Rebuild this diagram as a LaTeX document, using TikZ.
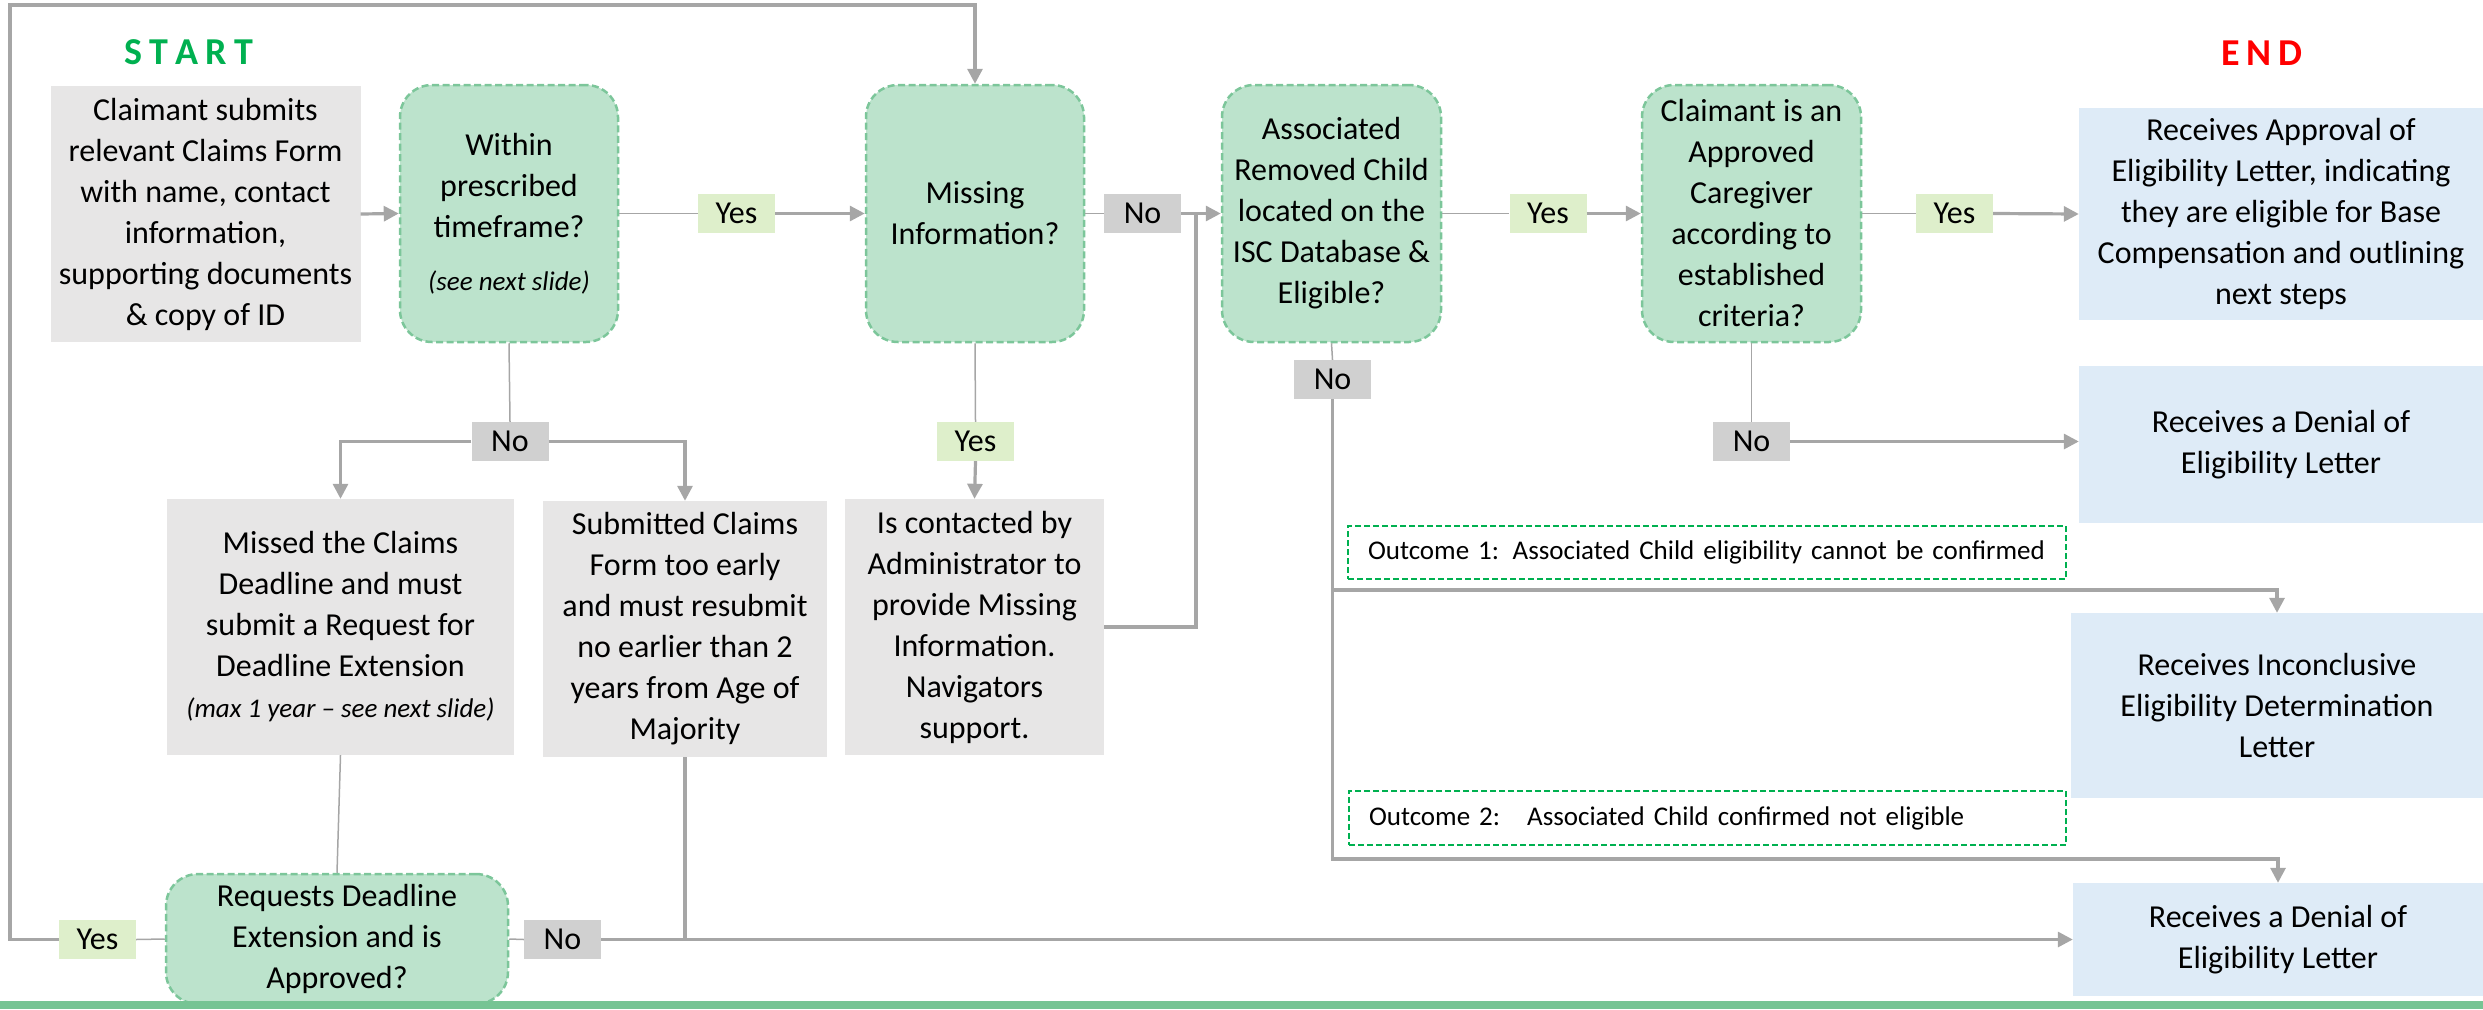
\documentclass[tikz,border=0pt]{standalone}
\usepackage{fontspec}
\setmainfont{Carlito}
\usetikzlibrary{arrows.meta}
\definecolor{boxgray}{RGB}{231,230,230}
\definecolor{decfill}{RGB}{188,227,204}
\definecolor{decline}{RGB}{124,198,154}
\definecolor{yesfill}{RGB}{222,239,203}
\definecolor{nofill}{RGB}{208,208,208}
\definecolor{endfill}{RGB}{222,235,247}
\definecolor{conn}{RGB}{166,166,166}
\definecolor{startgreen}{RGB}{0,176,80}
\definecolor{endred}{RGB}{255,0,0}
\definecolor{barg}{RGB}{118,196,148}
\begin{document}
\begin{tikzpicture}[x=1pt,y=-1pt,
  every node/.style={font=\fontsize{32}{41}\selectfont, align=center, inner sep=0pt},
  sz/.style 2 args={minimum width=#1pt, minimum height=#2pt},
  procbox/.style={fill=boxgray},
  decbox/.style={fill=decfill, draw=decline, line width=2.5pt, dash pattern=on 7pt off 3.5pt, rounded corners=32pt},
  endbox/.style={fill=endfill},
  yeslab/.style={fill=yesfill, sz={77}{39}},
  nolab/.style={fill=nofill, sz={77}{39}},
  outbox/.style={draw=startgreen, line width=2pt, dash pattern=on 6pt off 3pt, fill=white, font=\fontsize{27}{32}\selectfont, align=left, inner xsep=20pt},
  cthin/.style={draw=conn, line width=1.5pt},
  cthick/.style={draw=conn, line width=3.2pt},
  arr/.style={-{Triangle[length=15pt,width=15pt]}}
]
\useasboundingbox (0,0) rectangle (2483,1009);

% titles
\node[font=\fontsize{38}{44}\selectfont\bfseries, text=startgreen] (start) at (189,52) {S\kern7pt T\kern7pt A\kern7pt R\kern7pt T};
\node[font=\fontsize{38}{44}\selectfont\bfseries, text=endred] (endt) at (2262,53) {E\kern7pt N\kern7pt D};

% main row
\node[procbox, sz={310}{256}] (claim) at (205.5,214) {Claimant submits\\relevant Claims Form\\with name, contact\\information,\\supporting documents\\\& copy of ID};
\node[decbox, sz={218}{257}] (within) at (509,213.5) {Within\\prescribed\\timeframe?\\[12pt]{\fontsize{27}{32}\selectfont\itshape (see next slide)}};
\node[decbox, sz={218}{257}] (missing) at (975,213.5) {Missing\\Information?};
\node[decbox, sz={219}{257}] (assoc) at (1331.5,213.5) {Associated\\Removed Child\\located on the\\ISC Database \&\\Eligible?};
\node[decbox, sz={219}{257}] (care) at (1751.5,213.5) {Claimant is an\\Approved\\Caregiver\\according to\\established\\criteria?};
\node[endbox, sz={404}{212}] (approval) at (2281,214) {Receives Approval of\\Eligibility Letter, indicating\\they are eligible for Base\\Compensation and outlining\\next steps};
\node[endbox, sz={404}{157}] (den1) at (2281,444.5) {Receives a Denial of\\Eligibility Letter};
\node[endbox, sz={412}{185}] (incon) at (2277,705.5) {Receives Inconclusive\\Eligibility Determination\\Letter};
\node[endbox, sz={410}{113}] (den2) at (2278,939.5) {Receives a Denial of\\Eligibility Letter};

% second row
\node[procbox, sz={347}{256}] (missed) at (340.5,627) {Missed the Claims\\Deadline and must\\submit a Request for\\Deadline Extension\\{\fontsize{27}{32}\selectfont\itshape (max 1 year -- see next slide)}};
\node[procbox, sz={284}{256}] (subm) at (685,629) {Submitted Claims\\Form too early\\and must resubmit\\no earlier than 2\\years from Age of\\Majority};
\node[procbox, sz={259}{256}] (contact) at (974.5,627) {Is contacted by\\Administrator to\\provide Missing\\Information.\\Navigators\\support.};
\node[decbox, sz={342}{130}] (req) at (337,939) {Requests Deadline\\Extension and is\\Approved?};

% outcome notes
\node[outbox, text width=678pt, minimum height=53pt] (out1) at (1707,552.5) {Outcome 1: Associated Child eligibility cannot be confirmed};
\node[outbox, text width=677pt, minimum height=54pt] (out2) at (1707.5,818) {Outcome 2:\ \ \ Associated Child confirmed not eligible};

% labels
\node[yeslab] (yes1) at (736.5,213.5) {Yes};
\node[nolab] (no1) at (510,441.5) {No};
\node[yeslab] (yes2) at (975.5,441.5) {Yes};
\node[nolab] (no2) at (1142.5,213.5) {No};
\node[nolab] (no3) at (1332.5,379.5) {No};
\node[yeslab] (yes3) at (1548,213.5) {Yes};
\node[yeslab] (yes4) at (1954.5,213.5) {Yes};
\node[nolab] (no4) at (1751.5,441.5) {No};
\node[yeslab] (yes5) at (97.5,939.5) {Yes};
\node[nolab] (no5) at (562.5,939.5) {No};

\coordinate (c1) at (10,5);
\coordinate (j1) at (1196,213.5);
\coordinate (b1) at (1332.5,590);
\coordinate (b2) at (1332.5,859);

% connectors
\draw[cthick,arr] (claim.east) -- (within.west);
\draw[cthin] (within.east) -- (yes1.west);
\draw[cthick,arr] (yes1.east) -- (missing.west);
\draw[cthin] (within.south) -- (no1.north);
\draw[cthick,arr] (no1.west) -| (missed.north);
\draw[cthick,arr] (no1.east) -| (subm.north);
\draw[cthin] (missing.south) -- (yes2.north);
\draw[cthick,arr] (yes2.south) -- (contact.north);
\draw[cthin] (missing.east) -- (no2.west);
\draw[cthick,arr] (no2.east) -- (assoc.west);
\draw[cthick] (contact.east) -| (j1);
\draw[cthin] (assoc.east) -- (yes3.west);
\draw[cthick,arr] (yes3.east) -- (care.west);
\draw[cthin] (care.east) -- (yes4.west);
\draw[cthick,arr] (yes4.east) -- (approval.west);
\draw[cthin] (care.south) -- (no4.north);
\draw[cthick,arr] (no4.east) -- (no4.east -| den1.west);
\draw[cthin] (assoc.south) -- (no3.north);
\draw[cthick,arr] (no3.south) -- (b2) -| (den2.north);
\draw[cthick,arr] (b1) -| (incon.north);
\draw[cthin] (missed.south) -- (req.north);
\draw[cthin] (req.east) -- (no5.west);
\draw[cthick,arr] (no5.east) -- (no5.east -| den2.west);
\draw[cthick] (subm.south) -- (subm.south |- no5.east);
\draw[cthin] (req.west) -- (yes5.east);
\draw[cthick,arr] (yes5.west) -| (c1) -| (missing.north);

% bottom bar
\fill[barg] (0,1001) rectangle (2483,1009);
\end{tikzpicture}
\end{document}
